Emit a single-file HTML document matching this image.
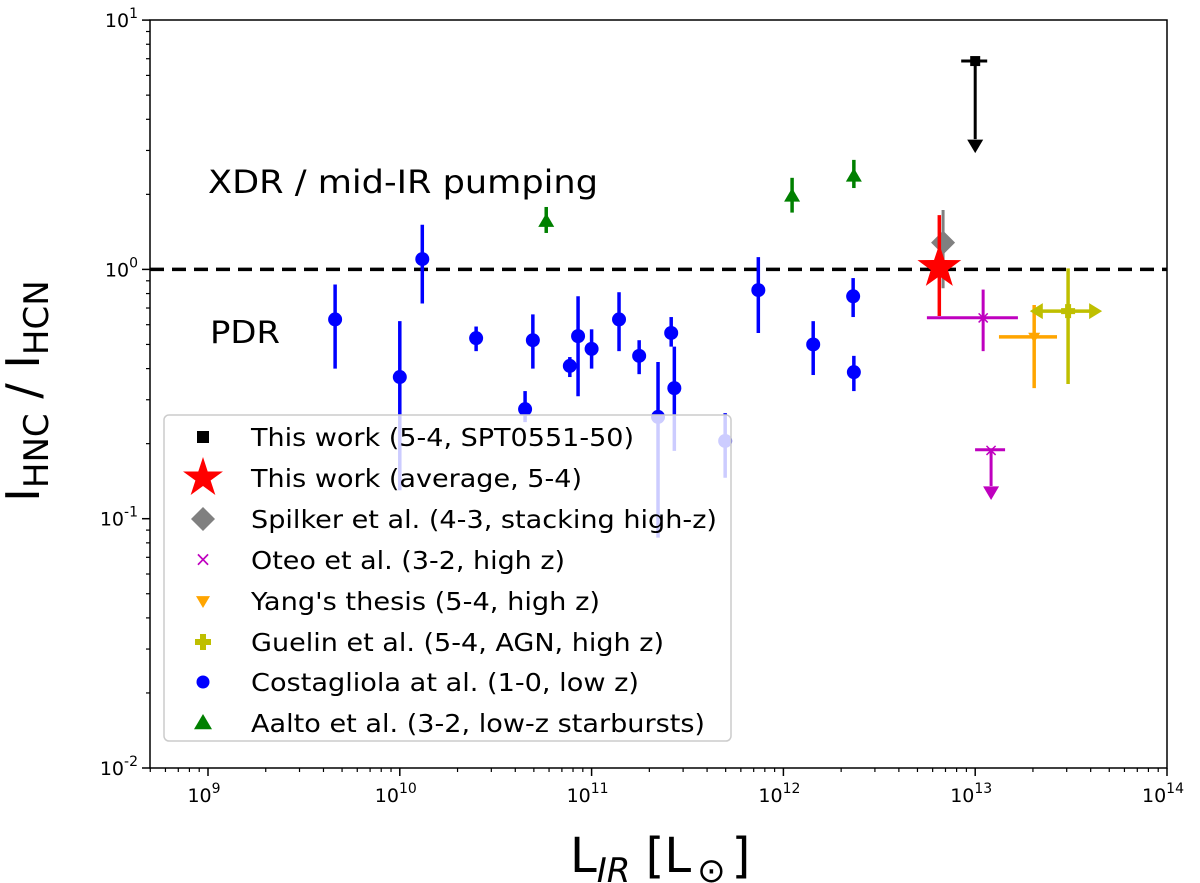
<!DOCTYPE html>
<html><head><meta charset="utf-8"><style>
body{margin:0;background:#fff}
svg{display:block;font-family:"DejaVu Sans","Liberation Sans",sans-serif}
</style></head><body>
<svg id="chart" width="1200" height="883" viewBox="0 0 1200 883"></svg>
<script>
const costL=[4.6e9,1.0e10,1.31e10,2.5e10,4.94e10,4.5e10,7.7e10,8.5e10,1.0e11,1.39e11,1.77e11,2.22e11,2.6e11,2.7e11,4.97e11,7.4e11,1.43e12,2.31e12,2.33e12];
const costV=[0.63,0.37,1.10,0.53,0.52,0.275,0.41,0.54,0.48,0.63,0.45,0.256,0.556,0.334,0.205,0.826,0.50,0.78,0.387];
const costHi=[0.87,0.62,1.51,0.59,0.66,0.325,0.445,0.78,0.575,0.81,0.52,0.425,0.644,0.49,0.265,1.12,0.62,0.923,0.45];
const costLo=[0.40,0.13,0.73,0.47,0.40,0.244,0.37,0.31,0.40,0.47,0.38,0.084,0.49,0.187,0.146,0.556,0.377,0.644,0.325];
const aaltoL=[5.8e10,1.11e12,2.33e12];
const aaltoV=[1.56,1.97,2.37];
const aaltoHi=[1.78,2.33,2.75];
const aaltoLo=[1.40,1.69,2.12];
const yTickExp=[-2,-1,0,1];
const xTickExp=[9,10,11,12,13,14];

const S=document.getElementById('chart');const NS='http://www.w3.org/2000/svg';
const L=150,R=1167,T=20,B=768;
const X=v=>208+(Math.log10(v)-9)*191.8;
const Y=v=>768-(Math.log10(v)+2)*249.3;
function el(t,a,p){const e=document.createElementNS(NS,t);for(const k in a)e.setAttribute(k,a[k]);(p||S).appendChild(e);return e;}
function line(x1,y1,x2,y2,c,w,p){return el('line',{x1,y1,x2,y2,stroke:c,'stroke-width':w},p);}
function tri(x,y,s,up,c,p){const d=up?`M${x},${y-s} L${x+s},${y+s*0.7} L${x-s},${y+s*0.7}Z`:`M${x},${y+s} L${x+s},${y-s*0.7} L${x-s},${y-s*0.7}Z`;return el('path',{d,fill:c},p);}

const dl=line(L,Y(1),R,Y(1),'#000',3.5);
dl.setAttribute('stroke-dasharray','14 8');



const gC=el('g',{});


costL.forEach((l,i)=>{const x=X(l);
 const ln=line(x,Y(costHi[i]),x,Y(costLo[i]),'#0000ff',3.5,gC);
 
 
 const c=el('circle',{cx:x,cy:Y(costV[i]),r:7,fill:'#0000ff'},gC);
 
 
});
aaltoL.forEach((l,i)=>{const x=X(l);
 line(x,Y(aaltoHi[i]),x,Y(aaltoLo[i]),'#008000',3.5);
 const t=tri(x,Y(aaltoV[i]),8,true,'#008000');
 
 
});
{const x=X(1.0e13),y=Y(6.85),y2=Y(3.15);
 line(x-14,y,x+12,y,'#000',3);line(x,y,x,y2-6,'#000',3);tri(x,y2,8,false,'#000');
 const r=el('rect',{x:x-5,y:y-5,width:10,height:10,fill:'#000'});
 
 }
{const x=X(6.8e12);line(x,Y(1.73),x,Y(0.84),'#808080',3);
 const d=el('path',{d:`M${x},${Y(1.28)-12} L${x+12},${Y(1.28)} L${x},${Y(1.28)+12} L${x-12},${Y(1.28)}Z`,fill:'#808080'});
 
 }
{const x=X(6.5e12),y=Y(1.02);line(x,Y(1.65),x,Y(0.65),'#ff0000',3.5);
 let p='';for(let k=0;k<10;k++){const r=k%2?9:23,a=-Math.PI/2+k*Math.PI/5;p+=(k?'L':'M')+(x+r*Math.cos(a))+','+(y+r*Math.sin(a));}
 const s=el('path',{d:p+'Z',fill:'#ff0000'});
 
 }
{const x=X(1.1e13),y=Y(0.64);line(X(5.6e12),y,X(1.67e13),y,'#bf00bf',3);line(x,Y(0.83),x,Y(0.47),'#bf00bf',3);
 const m=el('text',{x,y:y+6,'text-anchor':'middle','font-size':18,fill:'#bf00bf'});m.textContent='×';
 
 
 const x2=X(1.21e13),y2=Y(0.189),y3=Y(0.128);line(x2-16,y2,x2+14,y2,'#bf00bf',3);line(x2,y2,x2,y3-6,'#bf00bf',3);tri(x2,y3,8,false,'#bf00bf');
 const m2=el('text',{x:x2,y:y2+6,'text-anchor':'middle','font-size':18,fill:'#bf00bf'});m2.textContent='×';
 
 }
{const x=X(2.03e13),y=Y(0.536);line(X(1.33e13),y,X(2.67e13),y,'#ffa500',3.5);line(x,Y(0.72),x,Y(0.334),'#ffa500',3.5);
 const t=tri(x,y,6,false,'#ffa500');}
{const x=X(3.05e13),y=Y(0.68);line(x,Y(1.01),x,Y(0.347),'#bfbf00',3.5);const x1=X(2.07e13),x2=X(4.27e13);line(x1,y,x2,y,'#bfbf00',3.5);
 el('path',{d:`M${x1-6},${y} L${x1+7},${y-8} L${x1+7},${y+8}Z`,fill:'#bfbf00'});
 el('path',{d:`M${x2+6},${y} L${x2-7},${y-8} L${x2-7},${y+8}Z`,fill:'#bfbf00'});
 const p=el('path',{d:`M${x-3},${y-7}h6v4h4v6h-4v4h-6v-4h-4v-6h4z`,fill:'#bfbf00'});
 }

const fr=el('rect',{x:L,y:T,width:R-L,height:B-T,fill:'none',stroke:'#000','stroke-width':1.5});

yTickExp.forEach(e=>{const y=Y(Math.pow(10,e));line(L-8,y,L,y,'#000',1.5);
 const t=el('text',{x:L-12,y:y+7,'text-anchor':'end','font-size':19});
 t.innerHTML=`10<tspan dy="-9" font-size="14">${e}</tspan>`;
 
 if(e<1)for(let k=2;k<10;k++){const yy=Y(k*Math.pow(10,e));line(L-4,yy,L,yy,'#000',1.2);}
});
for(let k=5;k<10;k++)line(X(k*1e8),B,X(k*1e8),B+4,'#000',1.2);
xTickExp.forEach(e=>{const x=X(Math.pow(10,e));line(x,B,x,B+8,'#000',1.5);
 const t=el('text',{x:x-4,y:B+34,'text-anchor':'middle','font-size':19});
 t.innerHTML=`10<tspan dy="-9" font-size="14">${e}</tspan>`;
 
 if(e<14)for(let k=2;k<10;k++){const xx=X(k*Math.pow(10,e));line(xx,B,xx,B+4,'#000',1.2);}
});
let t=el('text',{x:208,y:193,'font-size':32,textLength:390,lengthAdjust:'spacingAndGlyphs'});t.textContent='XDR / mid-IR pumping';

t=el('text',{x:210,y:343,'font-size':31,textLength:70,lengthAdjust:'spacingAndGlyphs'});t.textContent='PDR';

t=el('text',{x:0,y:0,'font-size':46,'text-anchor':'middle',transform:'translate(39,391) rotate(-90)'});
t.innerHTML='I<tspan font-size="34" dy="9">HNC</tspan><tspan dy="-9"> / I</tspan><tspan font-size="34" dy="9">HCN</tspan>';

t=el('text',{x:570,y:872,'font-size':48});
t.innerHTML='L<tspan font-size="34" dy="10" font-style="italic">IR</tspan><tspan dy="-10"> [L</tspan><tspan font-size="34" dy="10" dx="6">⊙</tspan><tspan dy="-10" dx="6">]</tspan>';


const lg=el('g',{});
el('rect',{x:164,y:415,width:567,height:326,rx:5,fill:'rgba(255,255,255,0.8)',stroke:'#ccc','stroke-width':1.5},lg);
const labels=['This work (5-4, SPT0551-50)','This work (average, 5-4)','Spilker et al. (4-3, stacking high-z)','Oteo et al. (3-2, high z)',"Yang's thesis (5-4, high z)",'Guelin et al. (5-4, AGN, high z)','Costagliola at al. (1-0, low z)','Aalto et al. (3-2, low-z starbursts)'];
const lwid=[383,331,466,314,349,413,388,454];
const lys=[437,478,519,560,601,642,682,723];
labels.forEach((s,i)=>{const y=lys[i],mx=203;const g=el('g',{},lg);
 
 if(i==0)el('rect',{x:mx-6,y:y-6,width:12,height:12,fill:'#000'},g);
 if(i==1){let p='';for(let k=0;k<10;k++){const r=k%2?8:21,a=-Math.PI/2+k*Math.PI/5;p+=(k?'L':'M')+(mx+r*Math.cos(a))+','+(y+r*Math.sin(a));}el('path',{d:p+'Z',fill:'#ff0000'},g);}
 if(i==2)el('path',{d:`M${mx},${y-12}L${mx+12},${y}L${mx},${y+12}L${mx-12},${y}Z`,fill:'#808080'},g);
 if(i==3){const m=el('text',{x:mx,y:y+6,'text-anchor':'middle','font-size':20,fill:'#bf00bf'},g);m.textContent='×';}
 if(i==4)tri(mx,y,7,false,'#ffa500',g);
 if(i==5)el('path',{d:`M${mx-3},${y-8}h6v5h5v6h-5v5h-6v-5h-5v-6h5z`,fill:'#bfbf00'},g);
 if(i==6)el('circle',{cx:mx,cy:y,r:6.5,fill:'#0000ff'},g);
 if(i==7)tri(mx,y,9,true,'#008000',g);
 const tx=el('text',{x:251,y:y+9,'font-size':25,textLength:lwid[i],lengthAdjust:'spacingAndGlyphs'},g);tx.textContent=s;
});
</script>
</body></html>
